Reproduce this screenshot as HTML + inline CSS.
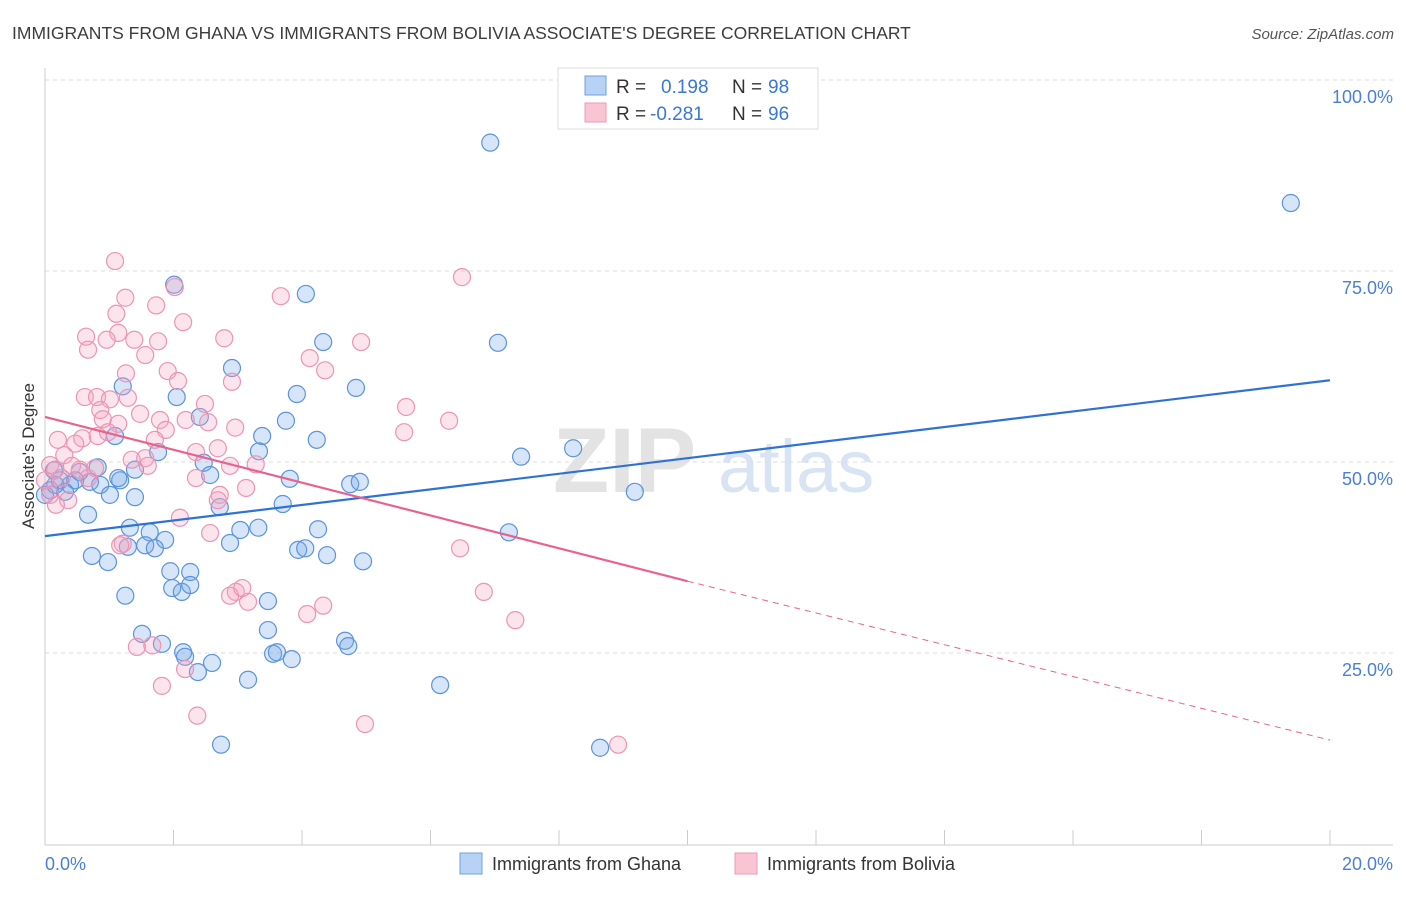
<!DOCTYPE html>
<html><head><meta charset="utf-8"><style>
body{margin:0;background:#fff;font-family:"Liberation Sans",sans-serif}
svg text{font-family:"Liberation Sans",sans-serif}
</style></head><body>
<svg id="chart" width="1406" height="892" xmlns="http://www.w3.org/2000/svg">
<text x="12" y="39" font-size="17.5" fill="#3c3c3c">IMMIGRANTS FROM GHANA VS IMMIGRANTS FROM BOLIVIA ASSOCIATE'S DEGREE CORRELATION CHART</text>
<text x="1394" y="39" font-size="15" fill="#555" text-anchor="end" font-style="italic">Source: ZipAtlas.com</text>
<g>
<text x="553" y="492" font-size="92" fill="#d8d8d8" font-family="Liberation Serif" font-weight="bold" opacity="0.7">ZIP</text>
<text x="718" y="492" font-size="74" fill="#c8d8ee" opacity="0.7">atlas</text>
</g>
<g id="grid"></g>
<g id="axes"></g>
<g id="pts"></g>
<g id="lines"></g>
<text transform="translate(34,456) rotate(-90)" font-size="17" fill="#333" text-anchor="middle">Associate's Degree</text>
<g>
<rect x="558" y="68" width="260" height="61" fill="#fff" stroke="#ddd"/>
<rect x="585" y="76" width="21" height="19" fill="#b7d2f4" stroke="#6fa0e0"/>
<rect x="585" y="103" width="21" height="19" fill="#f9c4d4" stroke="#eb9ab6"/>
<text x="616" y="93" font-size="19" fill="#333">R =</text>
<text x="661" y="93" font-size="19" fill="#3a78d4">0.198</text>
<text x="732" y="93" font-size="19" fill="#333">N =</text>
<text x="768" y="93" font-size="19" fill="#3a78d4">98</text>
<text x="616" y="120" font-size="19" fill="#333">R =</text>
<text x="650" y="120" font-size="19" fill="#3a78d4">-0.281</text>
<text x="732" y="120" font-size="19" fill="#333">N =</text>
<text x="768" y="120" font-size="19" fill="#3a78d4">96</text>
</g>
<g>
<rect x="460" y="853" width="22" height="21" fill="#b7d2f4" stroke="#6fa0e0"/>
<text x="492" y="870" font-size="18" fill="#333">Immigrants from Ghana</text>
<rect x="735" y="853" width="22" height="21" fill="#f9c4d4" stroke="#eb9ab6"/>
<text x="767" y="870" font-size="18" fill="#333">Immigrants from Bolivia</text>
</g>
</svg>
<script>
const yTicks=[25,50,75,100];
const yTickLabels=["25.0%","50.0%","75.0%","100.0%"];
const xTickCount=[0,2,4,6,8,10,12,14,16,18,20];
const xTickLabels=["0.0%","20.0%"];
const ghanaX=[6.93,19.39,2.01,4.06,4.33,7.05,2.91,1.21,4.84,3.92,2.05,2.41,3.75,1.09,3.38,4.23,3.33,7.41,8.22,1.76,2.47,0.82,0.14,0.54,3.81,1.17,2.57,0.23,0.39,0.70,0.86,0.08,0.31,1.01,1.40,4.75,4.90,9.18,2.72,3.70,0.67,1.32,1.63,3.04,3.32,4.25,7.22,1.87,1.56,1.71,2.88,1.29,0.73,0.98,3.94,4.05,4.39,4.95,1.95,2.26,1.98,2.13,2.26,1.25,3.47,1.51,3.47,4.67,4.72,1.82,2.15,2.18,2.60,3.55,3.61,3.84,2.38,6.15,3.16,2.74,8.64,0,0.16,0.47,1.40,1.14];
const ghanaY=[91.8,83.9,73.2,72.0,65.7,65.6,62.3,59.9,59.7,58.9,58.5,55.9,55.4,53.4,53.4,52.9,51.4,50.7,51.8,51.3,49.9,49.3,48.9,48.7,47.8,47.6,48.3,47.6,47.0,47.4,47.0,46.3,46.1,45.7,45.4,47.1,47.4,46.1,44.1,44.5,43.1,41.4,40.8,41.1,41.4,41.2,40.8,39.8,39.1,38.7,39.4,38.9,37.7,36.9,38.5,38.7,37.8,37.0,35.7,35.6,33.5,33.0,33.9,32.5,31.8,27.5,28.0,26.6,25.9,26.2,25.1,24.5,23.7,24.9,25.1,24.2,22.5,20.8,21.5,13.0,12.6,45.7,47.0,47.6,49.0,47.9];
const boliviaX=[1.09,6.49,2.02,3.67,1.25,1.73,2.15,1.11,0.64,1.14,0.96,1.39,1.76,2.79,4.92,0.67,4.12,1.56,4.36,1.91,2.07,1.26,2.91,0.62,0.81,1.01,1.29,2.49,5.62,0.86,1.48,1.79,2.19,6.29,2.54,0.90,1.14,2.96,5.59,0.82,1.88,0.58,0.98,0.20,0.47,1.71,2.69,2.35,3.28,1.35,1.56,0.08,0.30,0.54,0.67,0.78,1.60,2.35,2.88,3.13,2.72,2.69,0.36,0.17,0.08,2.10,2.57,1.21,6.46,2.97,2.88,3.16,3.07,4.33,4.08,6.83,7.32,1.43,1.67,2.18,1.82,2.37,4.98,8.92,1.17,0.16,0.26,0.42,0];
const boliviaY=[76.3,74.2,72.9,71.7,71.5,70.5,68.3,69.4,66.4,66.9,66.0,66.0,65.8,66.2,65.7,64.7,63.6,64.0,62.0,61.9,60.6,61.6,60.5,58.5,58.5,58.2,58.4,57.6,57.2,56.8,56.3,55.5,55.5,55.4,55.2,55.6,55.0,54.5,53.9,53.4,54.2,53.1,53.9,52.9,52.4,52.9,51.8,51.3,49.7,50.3,50.5,49.6,50.9,49.0,47.9,49.2,49.5,47.9,49.5,46.6,45.7,45.0,45.0,44.4,45.7,42.7,40.7,39.3,38.7,33.0,32.5,31.7,33.5,31.2,30.1,33.0,29.3,25.8,26.0,22.9,20.7,16.8,15.7,13.0,39.1,49.0,47.9,49.5,47.6];
const ghanaTrend=[40.3,60.7];
const boliviaTrend=[55.9,34.4,13.6];
const X=v=>45+v*64.25, Y=v=>844-v*7.64;
const NS="http://www.w3.org/2000/svg";
function mk(tag,attrs,parent){const e=document.createElementNS(NS,tag);for(const k in attrs)e.setAttribute(k,attrs[k]);parent.appendChild(e);return e;}
const grid=document.getElementById('grid'),axes=document.getElementById('axes'),pts=document.getElementById('pts'),lines=document.getElementById('lines');
yTicks.forEach((t,i)=>{
 const l=mk('line',{x1:45,x2:1393,y1:Y(t),y2:Y(t),stroke:'#ddd','stroke-dasharray':'4,4'},grid);
 
 
 const tx=mk('text',{x:1393,y:Y(t)+23,'font-size':18,fill:'#4a7fd4','text-anchor':'end'},axes);
 tx.textContent=yTickLabels[i];
 
 
});
const ax=mk('line',{x1:45,x2:1393,y1:845,y2:845,stroke:'#ccc'},axes);


const ay=mk('line',{x1:45,x2:45,y1:68,y2:845,stroke:'#ccc'},axes);


xTickCount.forEach(t=>{
 const l=mk('line',{x1:X(t),x2:X(t),y1:830,y2:845,stroke:'#ccc'},axes);
 
 
});
const xl0=mk('text',{x:45,y:870,'font-size':18,fill:'#4a7fd4'},axes);xl0.textContent=xTickLabels[0];


const xl1=mk('text',{x:1393,y:870,'font-size':18,fill:'#4a7fd4','text-anchor':'end'},axes);xl1.textContent=xTickLabels[1];


ghanaX.forEach((v,i)=>{
 const c=mk('circle',{cx:X(v),cy:Y(ghanaY[i]),r:8.5,fill:'rgba(120,170,232,0.3)',stroke:'#5b93dc','stroke-width':1.2},pts);
 
 
});
boliviaX.forEach((v,i)=>{
 const c=mk('circle',{cx:X(v),cy:Y(boliviaY[i]),r:8.5,fill:'rgba(244,166,192,0.3)',stroke:'#ec94b3','stroke-width':1.2},pts);
 
 
});
const bl=mk('line',{x1:X(0),y1:Y(ghanaTrend[0]),x2:X(20),y2:Y(ghanaTrend[1]),stroke:'#2f72d6','stroke-width':2.2},lines);


const pl=mk('line',{x1:X(0),y1:Y(boliviaTrend[0]),x2:X(10),y2:Y(boliviaTrend[1]),stroke:'#e8628e','stroke-width':2.2},lines);


const pd=mk('line',{x1:X(10),y1:Y(boliviaTrend[1]),x2:X(20),y2:Y(boliviaTrend[2]),stroke:'#e8628e','stroke-width':1,'stroke-dasharray':'6,5'},lines);


</script>
</body></html>
